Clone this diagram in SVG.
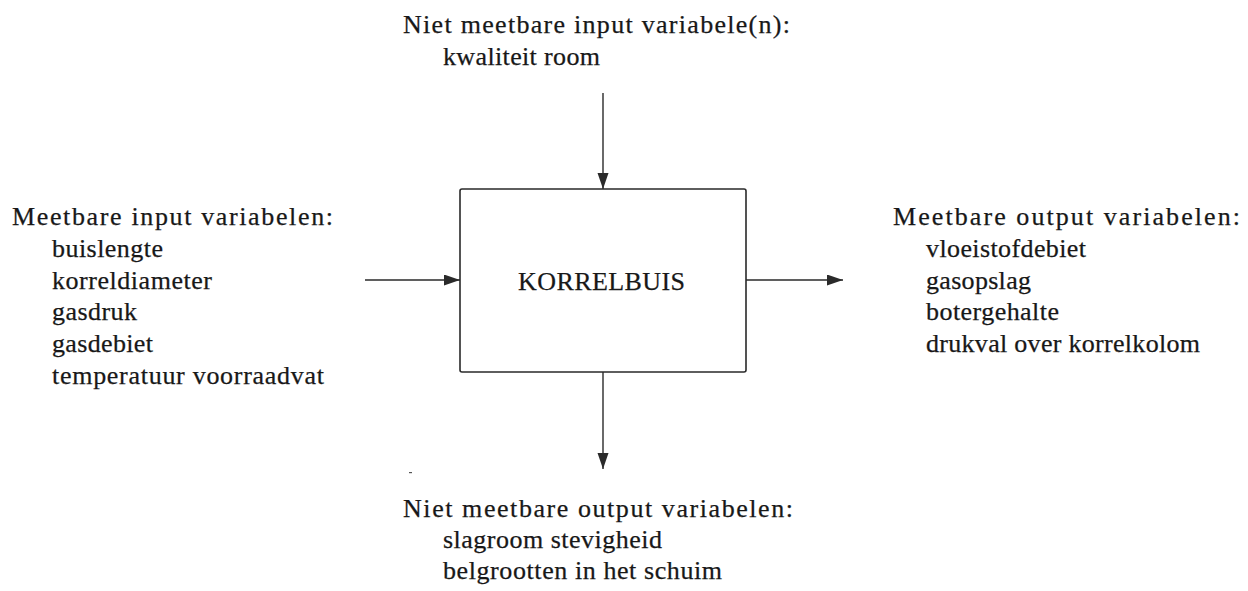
<svg xmlns="http://www.w3.org/2000/svg" width="1248" height="591" viewBox="0 0 1248 591">
  <style>
    .t { font-size: 26px; fill: #181818; stroke: #181818; stroke-width: 0.25; }
    .edge { stroke: #2a2a2a; stroke-width: 1.4; fill: none; }
    .box { stroke: #2a2a2a; stroke-width: 1.6; fill: #ffffff; }
  </style>
  <defs>
    <marker id="head" markerUnits="userSpaceOnUse" markerWidth="17" markerHeight="12" refX="16" refY="5.5" orient="auto">
      <path d="M0,0 L16,5.5 L0,11 z" fill="#2a2a2a"/>
    </marker>
  </defs>
  <rect width="1248" height="591" fill="#ffffff"/>

  <!-- connectors -->
  <g id="connectors">
    <line class="edge" x1="603" y1="93" x2="603" y2="189" marker-end="url(#head)"/>
    <line class="edge" x1="365" y1="280" x2="460" y2="280" marker-end="url(#head)"/>
    <line class="edge" x1="746" y1="280" x2="843" y2="280" marker-end="url(#head)"/>
    <line class="edge" x1="603" y1="372" x2="603" y2="469" marker-end="url(#head)"/>
  </g>

  <g font-family="'Liberation Serif', 'Times New Roman', Times, serif">
    <!-- central process block -->
    <g id="korrelbuis">
      <rect class="box" x="460" y="189" width="286" height="183" rx="2"/>
      <text class="t" x="518" y="290" textLength="167" lengthAdjust="spacing">KORRELBUIS</text>
    </g>

    <!-- unmeasurable inputs (top) -->
    <g id="niet-meetbare-input">
      <text class="t" x="403" y="33" textLength="387" lengthAdjust="spacing">Niet meetbare input variabele(n):</text>
      <text class="t" x="443" y="65" textLength="157" lengthAdjust="spacing">kwaliteit room</text>
    </g>

    <!-- measurable inputs (left) -->
    <g id="meetbare-input">
      <text class="t" x="12" y="225" textLength="321" lengthAdjust="spacing">Meetbare input variabelen:</text>
      <text class="t" x="52" y="257" textLength="111" lengthAdjust="spacing">buislengte</text>
      <text class="t" x="52" y="289" textLength="160" lengthAdjust="spacing">korreldiameter</text>
      <text class="t" x="52" y="320" textLength="85" lengthAdjust="spacing">gasdruk</text>
      <text class="t" x="52" y="352" textLength="101" lengthAdjust="spacing">gasdebiet</text>
      <text class="t" x="52" y="384" textLength="272" lengthAdjust="spacing">temperatuur voorraadvat</text>
    </g>

    <!-- measurable outputs (right) -->
    <g id="meetbare-output">
      <text class="t" x="893" y="225" textLength="347" lengthAdjust="spacing">Meetbare output variabelen:</text>
      <text class="t" x="926" y="257" textLength="160" lengthAdjust="spacing">vloeistofdebiet</text>
      <text class="t" x="926" y="289" textLength="105" lengthAdjust="spacing">gasopslag</text>
      <text class="t" x="926" y="320" textLength="133" lengthAdjust="spacing">botergehalte</text>
      <text class="t" x="926" y="352" textLength="274" lengthAdjust="spacing">drukval over korrelkolom</text>
    </g>

    <!-- unmeasurable outputs (bottom) -->
    <g id="niet-meetbare-output">
      <text class="t" x="403" y="517" textLength="390" lengthAdjust="spacing">Niet meetbare output variabelen:</text>
      <text class="t" x="443" y="548" textLength="219" lengthAdjust="spacing">slagroom stevigheid</text>
      <text class="t" x="443" y="579" textLength="279" lengthAdjust="spacing">belgrootten in het schuim</text>
    </g>
  </g>

  <!-- stray print mark -->
  <rect x="409" y="472" width="3" height="1.2" fill="#555"/>
</svg>
